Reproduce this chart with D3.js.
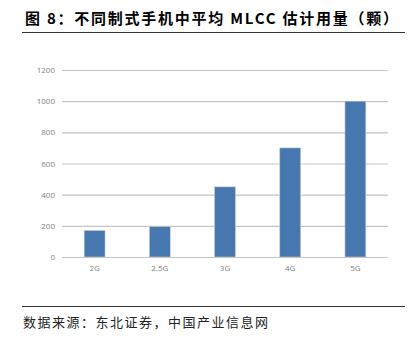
<!DOCTYPE html>
<html><head><meta charset="utf-8">
<script src="https://cdn.jsdelivr.net/npm/d3@7"></script>
<style>body{margin:0;background:#fff}</style>
</head><body>
<script>
const categories = ["2G","2.5G","3G","4G","5G"];
const values = [170, 195, 450, 700, 1000];
const yTicks = [0,200,400,600,800,1000,1200];
const titleText = "图 8：不同制式手机中平均 MLCC 估计用量（颗）";
const sourceText = "数据来源：东北证券，中国产业信息网";

const W = 420, H = 350;
const svg = d3.select("body").append("svg").attr("width", W).attr("height", H);
svg.append("rect").attr("width",W).attr("height",H).attr("fill","#fff");

const plot = {l:62, r:388, t:70, b:257};
const x = d3.scaleBand().domain(categories).range([plot.l, plot.r]).paddingInner(0.68).paddingOuter(0.34);
const y = d3.scaleLinear().domain([0,1200]).range([plot.b, plot.t]);

// title
svg.append("text").attr("x",25).attr("y",24)
  .attr("font-family","'Noto Sans CJK SC'").attr("font-weight","bold").attr("font-size",15)
  .attr("fill","#000").attr("textLength",373).attr("lengthAdjust","spacing")
  .text(titleText);
svg.append("line").attr("x1",22).attr("x2",405).attr("y1",32.5).attr("y2",32.5).attr("stroke","#333").attr("stroke-width",1);

// grid + y axis
const yAxis = d3.axisLeft(y).tickValues(yTicks).tickFormat(d3.format("d")).tickSize(-(plot.r-plot.l)).tickPadding(7);
const gy = svg.append("g").attr("transform",`translate(${plot.l},0)`).call(yAxis);
gy.select(".domain").remove();
gy.selectAll(".tick line").attr("stroke","#c4c4c4").attr("stroke-width",1.2);
gy.selectAll(".tick text").attr("font-family","'Open Sans'").attr("font-size",8).attr("fill","#808080");

// bars
svg.append("g").selectAll("rect").data(values).join("rect")
  .attr("x",(d,i)=>x(categories[i]))
  .attr("y",d=>y(d))
  .attr("width",x.bandwidth())
  .attr("height",d=>plot.b-y(d))
  .attr("fill","#4677ae")
  .attr("stroke","#c8ccd2").attr("stroke-width",0.6);

// x axis labels
const xAxis = d3.axisBottom(x).tickSize(0).tickPadding(8);
const gx = svg.append("g").attr("transform",`translate(0,${plot.b})`).call(xAxis);
gx.select(".domain").remove();
gx.selectAll(".tick text").attr("font-family","'Open Sans'").attr("font-size",8).attr("fill","#808080");

// source
svg.append("line").attr("x1",22).attr("x2",405).attr("y1",306.5).attr("y2",306.5).attr("stroke","#333").attr("stroke-width",1);
svg.append("text").attr("x",23).attr("y",327)
  .attr("font-family","'Noto Sans CJK SC'").attr("font-size",13).attr("fill","#222")
  .attr("textLength",245).attr("lengthAdjust","spacing")
  .text(sourceText);
</script>
</body></html>
